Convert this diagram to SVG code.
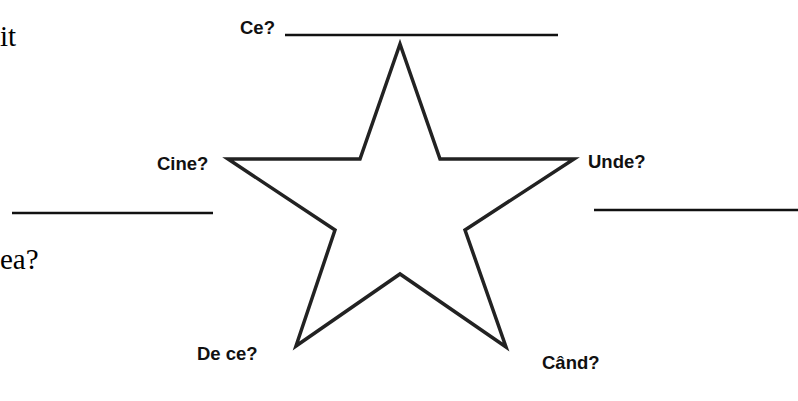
<svg xmlns="http://www.w3.org/2000/svg" width="798" height="401" viewBox="0 0 798 401">
<style>
.lbl{font-family:"Liberation Sans",Arial,sans-serif;font-weight:bold;font-size:18.5px;fill:#111}
.ser{font-family:"Liberation Serif","Times New Roman",serif;font-size:29px;fill:#000}
.blank{stroke:#111;stroke-width:2.5;fill:none}
.star{stroke:#222;stroke-width:3.5;fill:none;stroke-linejoin:miter;stroke-miterlimit:20}
</style>
<rect width="798" height="401" fill="#fff"/>
<text class="ser" x="0" y="46">it</text>
<text class="ser" x="0" y="269">ea?</text>
<g id="star">
<polygon class="star" points="400,44 440,159 574,159 465,230 506,347 400,274 296,346 335,230 228,159 360,159"/>
</g>
<g id="connectors">
<line class="blank" x1="285" y1="35" x2="558" y2="35"/>
<line class="blank" x1="12" y1="213" x2="213" y2="213"/>
<line class="blank" x1="594" y1="210" x2="798" y2="210"/>
</g>
<g id="ce"><text class="lbl" x="240" y="34">Ce?</text></g>
<g id="cine"><text class="lbl" x="157" y="170">Cine?</text></g>
<g id="unde"><text class="lbl" x="588" y="168">Unde?</text></g>
<g id="dece"><text class="lbl" x="197" y="360">De ce?</text></g>
<g id="cand"><text class="lbl" x="542" y="369">Când?</text></g>
</svg>
